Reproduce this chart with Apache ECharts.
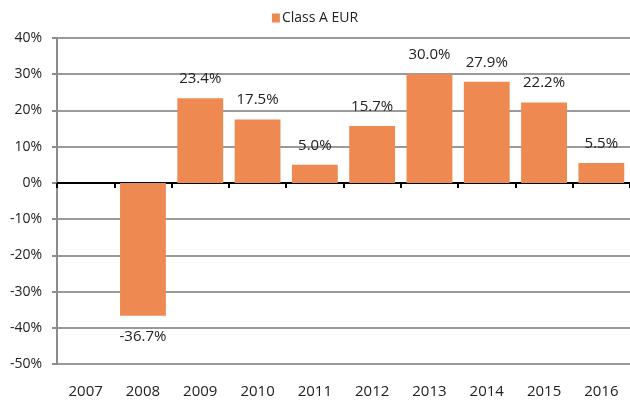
<!DOCTYPE html>
<html>
<head>
<meta charset="utf-8">
<script src="https://cdn.jsdelivr.net/npm/echarts@6/dist/echarts.min.js"></script>
<style>
html, body { margin: 0; padding: 0; background: #fff; }
#bar { width: 630px; height: 400px; }
</style>
</head>
<body>
<div id="bar"></div>
<script>
// 数据
var years = ['2007', '2008', '2009', '2010', '2011', '2012', '2013', '2014', '2015', '2016'];
var classA = [null, -36.7, 23.4, 17.5, 5.0, 15.7, 30.0, 27.9, 22.2, 5.5];
var seriesName = 'Class A EUR';

var font = 'Open Sans';
var chart = echarts.init(document.getElementById('bar'));
chart.setOption({
    animation: false,
    textStyle: { fontFamily: font },
    legend: {
        top: 6,
        left: 'center',
        itemWidth: 8,
        itemHeight: 9,
        itemGap: 4,
        icon: 'rect',
        textStyle: { fontFamily: font, fontSize: 14, color: '#222', padding: [0, 0, 0, -3] },
        data: [seriesName]
    },
    grid: { left: 57, right: 0, top: 38, bottom: 36 },
    xAxis: [{
        type: 'category',
        data: years,
        position: 'bottom',
        axisLine: { onZero: false, show: false },
        axisTick: { show: false },
        axisLabel: { margin: 20, fontFamily: font, fontSize: 15, color: '#222' }
    }, {
        type: 'category',
        data: years,
        position: 'top',
        axisLine: { onZero: true, lineStyle: { color: '#000', width: 2 } },
        axisTick: { show: true, inside: true, length: 5, interval: 0, lineStyle: { color: '#000', width: 2 } },
        axisLabel: { show: false }
    }],
    yAxis: {
        type: 'value',
        min: -50,
        max: 40,
        interval: 10,
        axisLine: { show: true, lineStyle: { color: '#8c8c8c', width: 2 } },
        axisTick: { show: true, length: 5, lineStyle: { color: '#8c8c8c', width: 2 } },
        splitLine: { lineStyle: { color: '#9a9a9a', width: 2 } },
        axisLabel: {
            margin: 15,
            fontFamily: font,
            fontSize: 14,
            color: '#222',
            formatter: '{value}%'
        }
    },
    series: [{
        name: seriesName,
        type: 'bar',
        xAxisIndex: 0,
        barCategoryGap: '20%',
        itemStyle: { color: '#EE8A51' },
        label: {
            show: true,
            position: 'top',
            distance: 12,
            fontFamily: font,
            fontSize: 15,
            color: '#222',
            formatter: function (p) { return p.value.toFixed(1) + '%'; }
        },
        data: classA.map(function (v) {
            if (v === null) return null;
            return v < 0 ? { value: v, label: { position: 'bottom', distance: 13 } } : v;
        })
    }]
});
</script>
</body>
</html>
